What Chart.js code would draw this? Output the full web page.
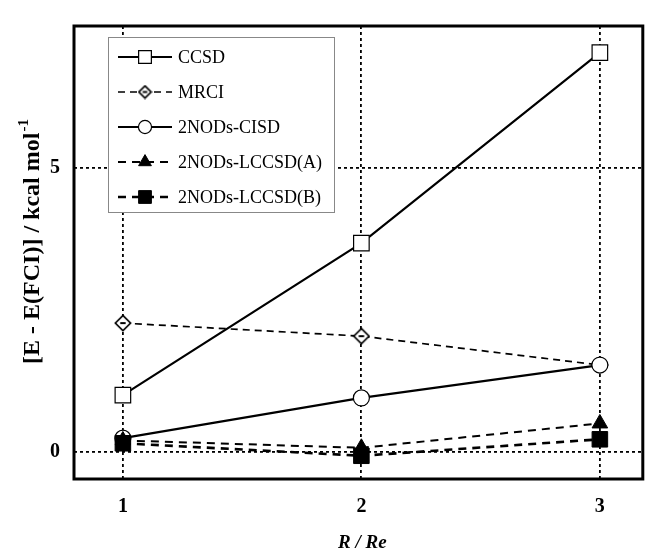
<!DOCTYPE html>
<html>
<head>
<meta charset="utf-8">
<script src="https://cdn.jsdelivr.net/npm/chart.js@4.4.0/dist/chart.umd.min.js"></script>
<style>
  html, body { margin: 0; padding: 0; background: #fff; }
  #wrap { width: 655px; height: 551px; }
</style>
</head>
<body>
<div id="wrap"><canvas id="chart" width="655" height="551"></canvas></div>
<script>
// R / Re values on the x axis
const rValues = [1, 2, 3];
const xTicks = [1, 2, 3];
const yTicks = [0, 5];

// E - E(FCI) in kcal/mol
const ccsd = [1.00, 3.68, 7.04];
const mrci = [2.27, 2.04, 1.53];
const cisd = [0.24, 0.95, 1.53];
const lccsdA = [0.20, 0.07, 0.50];
const lccsdB = [0.15, -0.07, 0.22];

const serif = '"Liberation Serif", "DejaVu Serif", serif';

// diamond with a small dash inside, used for MRCI
function diamondMark(s) {
  const c = document.createElement('canvas');
  c.width = s; c.height = s;
  const g = c.getContext('2d');
  const m = s / 2, e = 1.4;
  g.fillStyle = '#fff';
  g.strokeStyle = '#000';
  g.lineWidth = 1.7;
  g.beginPath();
  g.moveTo(m, e); g.lineTo(s - e, m); g.lineTo(m, s - e); g.lineTo(e, m); g.closePath();
  g.fill(); g.stroke();
  g.lineWidth = 2;
  g.beginPath(); g.moveTo(m - s * 0.15, m); g.lineTo(m + s * 0.15, m); g.stroke();
  return c;
}

const toPoints = ys => ys.map((y, i) => ({ x: rValues[i], y: y }));

// frame, legend box and axis titles
const decor = {
  id: 'decor',
  beforeDatasetsDraw(chart) {
    const ctx = chart.ctx;
    const ds = chart.data.datasets;
    const bx = 108, by = 37, bw = 226, bh = 175;
    ctx.save();
    ctx.fillStyle = '#fff';
    ctx.fillRect(bx, by, bw, bh);
    ctx.strokeStyle = '#888';
    ctx.lineWidth = 1;
    ctx.strokeRect(bx + 0.5, by + 0.5, bw, bh);
    ctx.font = '18px ' + serif;
    ctx.textBaseline = 'middle';
    ds.forEach((d, i) => {
      const y = by + 20 + i * 35;
      ctx.strokeStyle = '#000';
      ctx.lineWidth = d.borderWidth;
      ctx.setLineDash(d.borderDash || []);
      ctx.beginPath(); ctx.moveTo(118, y); ctx.lineTo(172, y); ctx.stroke();
      ctx.setLineDash([]);
      ctx.fillStyle = d.pointBackgroundColor;
      ctx.lineWidth = d.pointBorderWidth;
      const style = d.legendStyle || d.pointStyle;
      Chart.helpers.drawPoint(ctx, { pointStyle: style, radius: d.pointRadius * 0.82, borderWidth: d.pointBorderWidth, rotation: 0 }, 145, y);
      ctx.fillStyle = '#000';
      ctx.fillText(d.label, 178, y + 1);
    });
    ctx.restore();
  },
  afterDraw(chart) {
    const ctx = chart.ctx;
    const a = chart.chartArea;
    ctx.save();
    ctx.strokeStyle = '#000';
    ctx.lineWidth = 3;
    ctx.strokeRect(a.left, a.top, a.right - a.left, a.bottom - a.top);
    ctx.fillStyle = '#000';
    ctx.textAlign = 'center';
    ctx.textBaseline = 'middle';
    ctx.font = 'italic bold 19px ' + serif;
    ctx.fillText('R / Re', (a.left + a.right) / 2 + 4, 543);
    // y title, rotated
    ctx.translate(33, 242);
    ctx.rotate(-Math.PI / 2);
    const main = '[E - E(FCI)] / kcal mol';
    ctx.font = 'bold 24px ' + serif;
    const w1 = ctx.measureText(main).width;
    ctx.font = 'bold 15px ' + serif;
    const w2 = ctx.measureText('-1').width;
    ctx.textAlign = 'left';
    ctx.font = 'bold 24px ' + serif;
    ctx.fillText(main, -(w1 + w2) / 2, 0);
    ctx.font = 'bold 15px ' + serif;
    ctx.fillText('-1', -(w1 + w2) / 2 + w1 + 1, -9);
    ctx.restore();
  }
};

const gridOpts = { color: '#000', lineWidth: 1.8, drawTicks: false };

new Chart(document.getElementById('chart'), {
  type: 'line',
  data: {
    datasets: [
      { label: 'CCSD', data: toPoints(ccsd), borderColor: '#000', borderWidth: 2.2,
        pointStyle: 'rect', pointRadius: 11, pointBackgroundColor: '#fff', pointBorderColor: '#000', pointBorderWidth: 1.2, order: 5 },
      { label: 'MRCI', data: toPoints(mrci), borderColor: '#000', borderWidth: 1.7, borderDash: [7, 5],
        pointStyle: diamondMark(18), legendStyle: diamondMark(15), pointRadius: 9, pointBackgroundColor: '#fff', pointBorderColor: '#000', pointBorderWidth: 1.2, order: 4 },
      { label: '2NODs-CISD', data: toPoints(cisd), borderColor: '#000', borderWidth: 2.2,
        pointStyle: 'circle', pointRadius: 8, pointBackgroundColor: '#fff', pointBorderColor: '#000', pointBorderWidth: 1.2, order: 3 },
      { label: '2NODs-LCCSD(A)', data: toPoints(lccsdA), borderColor: '#000', borderWidth: 2, borderDash: [8, 6],
        pointStyle: 'triangle', pointRadius: 9, pointBackgroundColor: '#000', pointBorderColor: '#000', pointBorderWidth: 1, order: 2 },
      { label: '2NODs-LCCSD(B)', data: toPoints(lccsdB), borderColor: '#000', borderWidth: 2.6, borderDash: [8, 6],
        pointStyle: 'rect', pointRadius: 11, pointBackgroundColor: '#000', pointBorderColor: '#000', pointBorderWidth: 1, order: 1 }
    ]
  },
  options: {
    responsive: false,
    animation: false,
    layout: { padding: { left: 0, right: 2, top: 14, bottom: 0 } },
    plugins: { legend: { display: false }, tooltip: { enabled: false } },
    scales: {
      x: {
        type: 'linear', min: 0.795, max: 3.18,
        afterBuildTicks: s => { s.ticks = xTicks.map(v => ({ value: v })); },
        afterFit: s => { s.height = 72; },
        grid: gridOpts,
        border: { display: false, dash: [3, 3] },
        ticks: { color: '#000', padding: 16, font: { family: serif, size: 20, weight: 'bold' } }
      },
      y: {
        min: -0.48, max: 7.51,
        afterBuildTicks: s => { s.ticks = yTicks.map(v => ({ value: v })); },
        afterFit: s => { s.width = 74; },
        grid: gridOpts,
        border: { display: false, dash: [3, 3] },
        ticks: { color: '#000', padding: 14, font: { family: serif, size: 20, weight: 'bold' } }
      }
    }
  },
  plugins: [decor]
});
</script>
</body>
</html>
